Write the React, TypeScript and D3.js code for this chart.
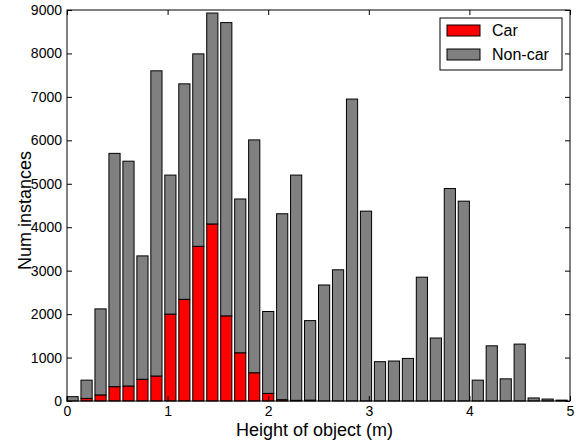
import React, { useEffect, useRef } from "react";
import * as d3 from "d3";

// 36 bins from 0 to 5 m
const binEdges = d3.range(36).map((i) => (i * 5) / 36);
const carCounts = [
  0, 60, 140, 330, 345, 500, 575, 2000, 2340, 3560, 4075, 1960, 1110, 650, 175,
  30, 15, 20, 0, 0, 0, 0, 0, 0, 0, 0, 0, 0, 0, 0, 0, 0, 0, 0, 0, 0,
];
const nonCarCounts = [
  100, 420, 1980, 5370, 5175, 2840, 7025, 3200, 4960, 4430, 4855, 6750, 3540,
  5360, 1885, 4280, 5185, 1830, 2670, 3020, 6950, 4370, 905, 920, 980, 2850,
  1450, 4890, 4600, 480, 1270, 510, 1310, 70, 45, 20,
];
const xTicks = [0, 1, 2, 3, 4, 5];
const yTicks = [0, 1000, 2000, 3000, 4000, 5000, 6000, 7000, 8000, 9000];
const seriesNames = ["Car", "Non-car"];
const seriesColors = ["#ff0000", "#808080"];

const W = 576;
const H = 444;
const margin = { top: 10, right: 6, bottom: 43, left: 67 };

const App = () => {
  const svgRef = useRef(null);

  useEffect(() => {
    const root = d3.select(svgRef.current);
    root.selectAll("*").remove();

    const width = W - margin.left - margin.right;
    const height = H - margin.top - margin.bottom;
    const font = "'Liberation Sans', Arial, sans-serif";

    const svg = root
      .append("g")
      .attr("transform", `translate(${margin.left},${margin.top})`);

    const x = d3.scaleLinear().domain([0, 5]).range([0, width]);
    const y = d3.scaleLinear().domain([0, 9000]).range([height, 0]);
    const binW = 5 / 36;

    const rows = binEdges.map((b, i) => ({
      bin: b,
      car: carCounts[i],
      noncar: nonCarCounts[i],
    }));
    const stacked = d3.stack().keys(["car", "noncar"])(rows);

    stacked.forEach((layer, li) => {
      svg
        .append("g")
        .selectAll("rect")
        .data(layer)
        .join("rect")
        .attr("x", (d) => x(d.data.bin))
        .attr("width", x(binW * 0.8) - x(0))
        .attr("y", (d) => y(d[1]))
        .attr("height", (d) => y(d[0]) - y(d[1]))
        .attr("fill", seriesColors[li])
        .attr("stroke", "#000")
        .attr("stroke-width", 1);
    });

    // frame
    svg
      .append("rect")
      .attr("width", width)
      .attr("height", height)
      .attr("fill", "none")
      .attr("stroke", "#000")
      .attr("stroke-width", 1);

    const tickLen = 5;
    const styleAxis = (g) => {
      g.select(".domain").remove();
      g.attr("font-size", 14).attr("font-family", font);
      g.selectAll("text")
        .style("font-size", "14px")
        .style("font-family", font)
        .attr("fill", "#000");
      g.selectAll("line").attr("stroke", "#000");
    };

    svg
      .append("g")
      .attr("transform", `translate(0,${height})`)
      .call(d3.axisBottom(x).tickValues(xTicks).tickSize(-tickLen).tickPadding(5).tickFormat(d3.format("d")))
      .call(styleAxis);
    svg
      .append("g")
      .call(d3.axisTop(x).tickValues(xTicks).tickSize(-tickLen).tickFormat(() => ""))
      .call(styleAxis);
    svg
      .append("g")
      .call(d3.axisLeft(y).tickValues(yTicks).tickSize(-tickLen).tickPadding(5).tickFormat(d3.format("d")))
      .call(styleAxis);
    svg
      .append("g")
      .attr("transform", `translate(${width},0)`)
      .call(d3.axisRight(y).tickValues(yTicks).tickSize(-tickLen).tickFormat(() => ""))
      .call(styleAxis);

    // axis labels
    svg
      .append("text")
      .attr("x", width / 2 - 4)
      .attr("y", height + 35)
      .attr("text-anchor", "middle")
      .style("font-family", font)
      .style("font-size", "18px")
      .text("Height of object (m)");

    svg
      .append("text")
      .attr("transform", `translate(${-36},${height / 2 + 5}) rotate(-90)`)
      .attr("text-anchor", "middle")
      .style("font-family", font)
      .style("font-size", "18px")
      .text("Num instances");

    // legend
    const legend = svg.append("g").attr("transform", `translate(${x(5) - 130},8)`);
    legend
      .append("rect")
      .attr("width", 122)
      .attr("height", 52)
      .attr("fill", "#fff")
      .attr("stroke", "#000");
    seriesNames.forEach((name, i) => {
      const g = legend.append("g").attr("transform", `translate(0,${7 + i * 24})`);
      g.append("rect")
        .attr("x", 7)
        .attr("y", 0)
        .attr("width", 33)
        .attr("height", 11)
        .attr("fill", seriesColors[i])
        .attr("stroke", "#000");
      g.append("text")
        .attr("x", 52)
        .attr("y", 11)
        .style("font-family", font)
        .style("font-size", "16px")
        .text(name);
    });
  }, []);

  return (
    <svg
      ref={svgRef}
      width={W}
      height={H}
      style={{ position: "absolute", left: 0, top: 0, background: "#fff" }}
    />
  );
};

export default App;
